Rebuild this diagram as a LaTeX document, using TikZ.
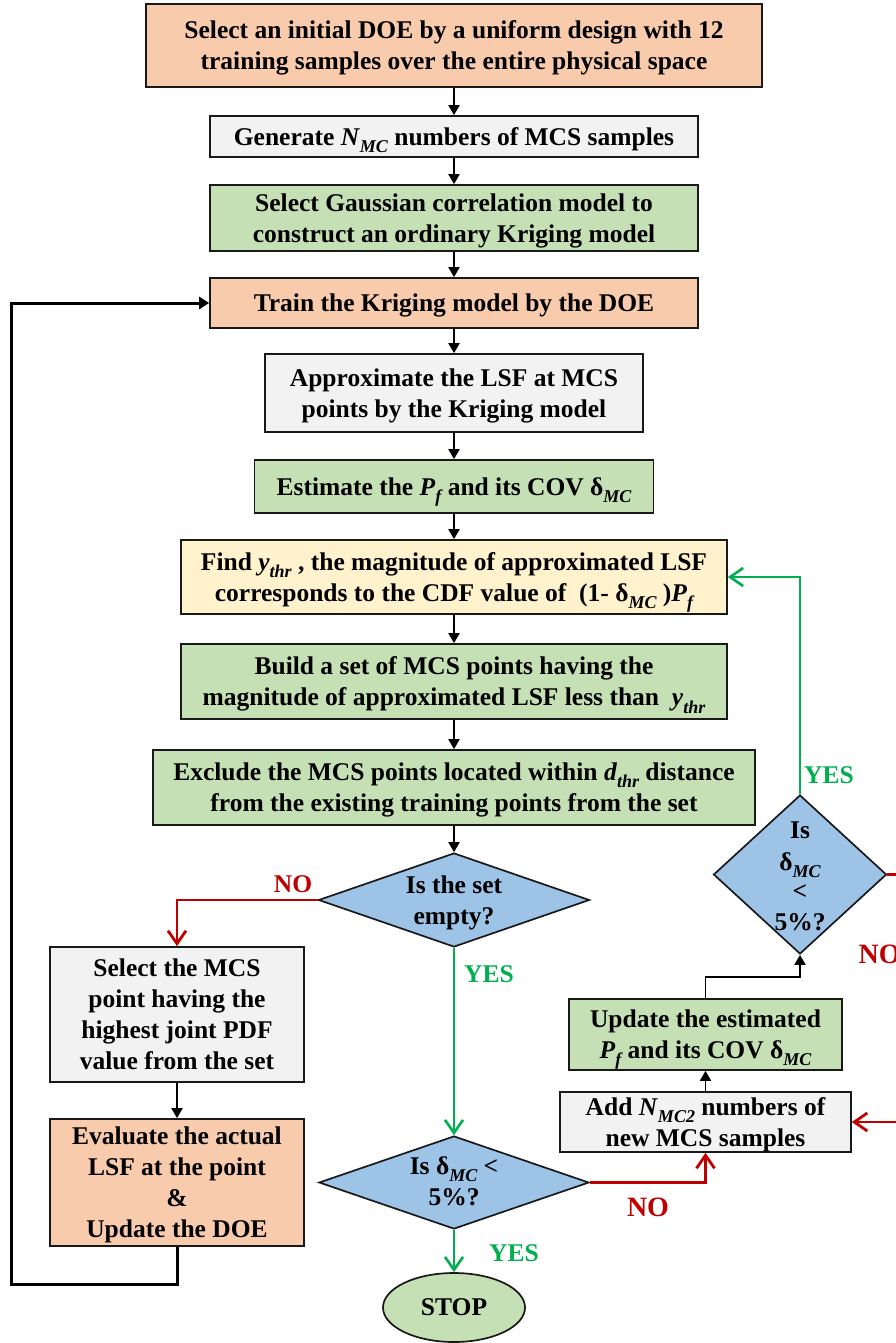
\documentclass[tikz,border=0pt]{standalone}
\usepackage{fontspec}
\setmainfont{Liberation Serif}
\usetikzlibrary{arrows.meta,shapes.geometric}
\definecolor{csalmon}{HTML}{F8CBAD}
\definecolor{cgray}{HTML}{F2F2F2}
\definecolor{cgreen}{HTML}{C5E0B4}
\definecolor{cyellow}{HTML}{FFF2CC}
\definecolor{cblue}{HTML}{9DC3E6}
\definecolor{lred}{HTML}{C00000}
\definecolor{lgreen}{HTML}{00B050}
\newcommand{\sbt}[1]{\raisebox{-0.28em}{\fontsize{18}{18}\selectfont\itshape #1}}
\tikzset{
  txt/.style={font=\fontsize{25.5}{31}\selectfont\bfseries, align=center, text depth=0pt},
  box/.style={txt, draw=black!90, line width=1.7pt, inner sep=0pt},
  dia/.style={diamond, draw=black!90, line width=1.7pt, fill=cblue, inner sep=0pt, aspect=1},
  arr/.style={draw=black, line width=1.9pt, -{Triangle[width=11pt,length=10pt]}},
  looparr/.style={draw=black, line width=3pt, -{Triangle[width=12pt,length=10pt]}},
  garr/.style={draw=lgreen, line width=2.6pt, -{Straight Barb[width=18pt,length=13pt]}},
  rarr/.style={draw=lred, line width=2.8pt, -{Straight Barb[width=18pt,length=13pt]}},
  rline/.style={draw=lred, line width=2.8pt},
  glab/.style={txt, text=lgreen},
  rlab/.style={txt, text=lred},
}
\begin{document}
\begin{tikzpicture}[x=1pt,y=-1pt]
\useasboundingbox (0,0) rectangle (896,1343);
\node[box, fill=csalmon, minimum width=616, minimum height=83] (b1) at (454,45.5)
  {Select an initial DOE by a uniform design with 12\\training samples over the entire physical space};
\node[box, fill=cgray, minimum width=488, minimum height=41] (b2) at (454,136.5)
  {Generate \textit{N}\sbt{MC} numbers of MCS samples};
\node[box, fill=cgreen, minimum width=488, minimum height=66] (b3) at (454,218)
  {Select Gaussian correlation model to\\construct an ordinary Kriging model};
\node[box, fill=csalmon, minimum width=488, minimum height=50] (b4) at (454,303)
  {Train the Kriging model by the DOE};
\node[box, fill=cgray, minimum width=378, minimum height=78] (b5) at (454,393)
  {Approximate the LSF at MCS\\points by the Kriging model};
\node[box, fill=cgreen, minimum width=399, minimum height=53] (b6) at (454,486.5)
  {Estimate the \textit{P}\sbt{f} and its COV δ\sbt{MC}};
\node[box, fill=cyellow, minimum width=546, minimum height=74] (b7) at (454,577)
  {Find \textit{y}\sbt{thr} , the magnitude of approximated LSF\\corresponds to the CDF value of \ (1- δ\sbt{MC} )\textit{P}\sbt{f}};
\node[box, fill=cgreen, minimum width=546, minimum height=75] (b8) at (454,681.5)
  {Build a set of MCS points having the\\magnitude of approximated LSF less than \ \textit{y}\sbt{thr}};
\node[box, fill=cgreen, minimum width=602, minimum height=75] (b9) at (454,787.5)
  {Exclude the MCS points located within \textit{d}\sbt{thr} distance\\from the existing training points from the set};
\node[dia, minimum width=271, minimum height=94] (d1) at (454,900) {};
\node[txt] (d1t) at (454,900) {Is the set\\empty?};
\node[box, fill=cgray, minimum width=254, minimum height=135] (b11) at (177,1014.5)
  {Select the MCS\\point having the\\highest joint PDF\\value from the set};
\node[box, fill=csalmon, minimum width=254, minimum height=127] (b12) at (177,1182.5)
  {Evaluate the actual\\LSF at the point\\\&\\Update the DOE};
\node[dia, minimum width=270, minimum height=93] (d2) at (454,1182.5) {};
\node[txt] (d2t) at (454,1181) {Is δ\sbt{MC} <\\5\%?};
\node[ellipse, draw=black!90, line width=1.7pt, fill=cgreen, minimum width=142, minimum height=69, txt] (stop) at (454,1307.5) {STOP};
\node[box, fill=cgray, minimum width=291, minimum height=60] (add) at (705.5,1122)
  {Add \textit{N}\sbt{MC2} numbers of\\new MCS samples};
\node[box, fill=cgreen, minimum width=273, minimum height=71] (upd) at (705.5,1034.5)
  {Update the estimated\\\textit{P}\sbt{f} and its COV δ\sbt{MC}};
\node[dia, minimum width=173, minimum height=159] (d3) at (800,874.5) {};
\node[txt] (d3t) at (800,876) {Is\\[1pt]δ\sbt{MC}\\[-2pt]<\\5\%?};

% main chain
\draw[arr] (b1) -- (b2);
\draw[arr] (b2) -- (b3);
\draw[arr] (b3) -- (b4);
\draw[arr] (b4) -- (b5);
\draw[arr] (b5) -- (b6);
\draw[arr] (b6) -- (b7);
\draw[arr] (b7) -- (b8);
\draw[arr] (b8) -- (b9);
\draw[arr] (b9) -- (d1);
% set empty?
\draw[rarr] (d1.west) -| (b11.north);
\node[rlab] (no1) at (293,884) {NO};
\draw[garr] (d1.south) -- (d2.north);
\node[glab] (yes1) at (489,974) {YES};
\draw[arr] (b11) -- (b12);
% loop back
\coordinate (lp) at (11,1284);
\draw[looparr] (b12.south) |- (lp) |- (b4.west);
% delta check
\draw[garr] (d2.south) -- (stop.north);
\node[glab] (yes2) at (514,1253) {YES};
\draw[rarr] (d2.east) -| (add.south);
\node[rlab, font=\fontsize{28}{31}\selectfont\bfseries] (no2) at (648,1207) {NO};
\draw[arr] (add) -- (upd);
\coordinate (k1) at (705.5,977);
\draw[arr] (upd.north) -- (k1) -| (d3.south);
\draw[garr] (d3.north) |- (b7.east);
\node[glab] (yes3) at (829,775) {YES};
\coordinate (e1) at (896,874.5);
\draw[rline] (d3.east) -- (e1);
\node[rlab, anchor=west, font=\fontsize{28}{31}\selectfont\bfseries] (no3) at (855,954) {NO};
\coordinate (e2) at (896,1122);
\draw[rarr] (e2) -- (add.east);
\end{tikzpicture}
\end{document}
